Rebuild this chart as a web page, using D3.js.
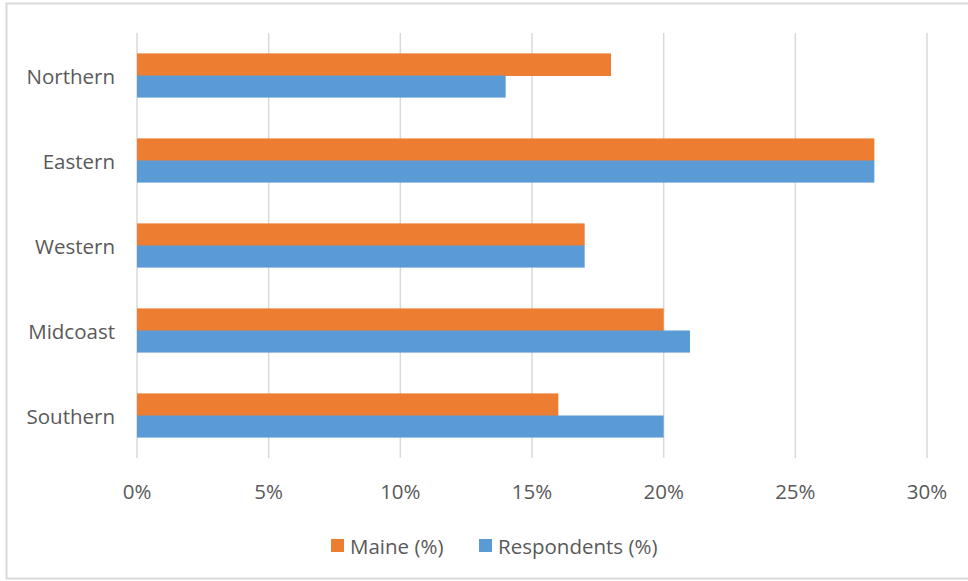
<!DOCTYPE html>
<html>
<head>
<meta charset="utf-8">
<script src="https://d3js.org/d3.v7.min.js"></script>
<style>
  html, body { margin: 0; padding: 0; background: #fff; }
  svg { display: block; }
  text { font-family: "Open Sans", Lato, sans-serif; fill: #595959; }
</style>
</head>
<body>
<svg id="chart" width="968" height="581"></svg>
<script>
// Regional share: Maine population vs. survey respondents
const regions = ["Northern", "Eastern", "Western", "Midcoast", "Southern"];
const maine = [18, 28, 17, 20, 16];
const respondents = [14, 28, 17, 21, 20];
const tickValues = [0, 5, 10, 15, 20, 25, 30];
const seriesNames = ["Maine (%)", "Respondents (%)"];
const seriesColors = ["#ed7d31", "#5b9bd5"];

const svg = d3.select("#chart");
const W = 968;
const FS = 20.5;

// Chart area frame
svg.append("rect")
  .attr("x", 6.5).attr("y", 3.5)
  .attr("width", W + 10).attr("height", 575)
  .attr("fill", "#fff")
  .attr("stroke", "#d9d9d9").attr("stroke-width", 2);

const plot = { left: 137, right: 927, top: 33, bottom: 458 };

const x = d3.scaleLinear().domain([0, 30]).range([plot.left, plot.right]);
const y = d3.scaleBand().domain(regions).range([plot.top, plot.bottom]).paddingInner(0.48).paddingOuter(0.24);
const sub = d3.scaleBand().domain(seriesNames).range([0, y.bandwidth()]);

// Vertical gridlines
svg.append("g").selectAll("line")
  .data(tickValues)
  .join("line")
  .attr("x1", d => x(d)).attr("x2", d => x(d))
  .attr("y1", plot.top).attr("y2", plot.bottom)
  .attr("stroke", "#d9d9d9").attr("stroke-width", 1.5);

// Bars
const series = [maine, respondents];
series.forEach((vals, si) => {
  svg.append("g").selectAll("rect")
    .data(regions.map((r, i) => ({ r, v: vals[i] })))
    .join("rect")
    .attr("x", x(0))
    .attr("y", d => y(d.r) + sub(seriesNames[si]))
    .attr("width", d => x(d.v) - x(0))
    .attr("height", sub.bandwidth() + (si === 0 ? 0.5 : 0))
    .attr("fill", seriesColors[si]);
});

// Category labels
svg.append("g").selectAll("text")
  .data(regions)
  .join("text")
  .attr("x", 115)
  .attr("y", d => y(d) + y.bandwidth() / 2)
  .attr("text-anchor", "end")
  .attr("dominant-baseline", "central")
  .attr("font-size", FS)
  .text(d => d);

// X tick labels
svg.append("g").selectAll("text")
  .data(tickValues)
  .join("text")
  .attr("x", d => x(d))
  .attr("y", 491)
  .attr("text-anchor", "middle")
  .attr("dominant-baseline", "central")
  .attr("font-size", FS)
  .text(d => d + "%");

// Legend
const legendX = [331, 479];
seriesNames.forEach((name, i) => {
  svg.append("rect")
    .attr("x", legendX[i]).attr("y", 539)
    .attr("width", 13).attr("height", 13)
    .attr("fill", seriesColors[i]);
  svg.append("text")
    .attr("x", legendX[i] + 19).attr("y", 546)
    .attr("dominant-baseline", "central")
    .attr("font-size", FS)
    .text(name);
});
</script>
</body>
</html>
